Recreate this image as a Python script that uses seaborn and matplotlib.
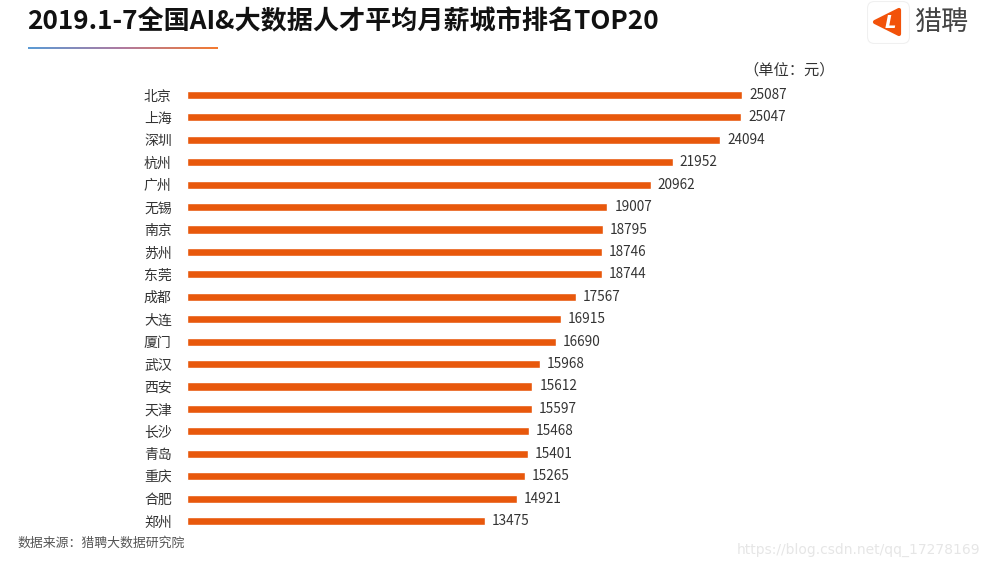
import numpy as np
import pandas as pd
import matplotlib
matplotlib.use('Agg')
import matplotlib.pyplot as plt
from matplotlib.colors import LinearSegmentedColormap
from matplotlib.patches import FancyBboxPatch, Polygon
import seaborn as sns

# Data
CITIES = ['北京', '上海', '深圳', '杭州', '广州', '无锡', '南京', '苏州', '东莞', '成都',
          '大连', '厦门', '武汉', '西安', '天津', '长沙', '青岛', '重庆', '合肥', '郑州']
SALARIES = [25087, 25047, 24094, 21952, 20962, 19007, 18795, 18746, 18744, 17567,
            16915, 16690, 15968, 15612, 15597, 15468, 15401, 15265, 14921, 13475]
TITLE = '2019.1-7全国AI&大数据人才平均月薪城市排名TOP20'
UNIT = '（单位：元）'
SOURCE = '数据来源：猎聘大数据研究院'
WATERMARK = 'https://blog.csdn.net/qq_17278169'

W, H = 990, 568
BAR_COLOR = '#E8580C'
FONTS = ['Noto Sans CJK SC', 'DejaVu Sans']


def px(x, y):
    """Pixel coords (from top-left) to figure fraction."""
    return x / W, 1 - y / H


def draw_header(fig):
    x, y = px(27, 22)
    fig.text(x, y, TITLE, fontsize=18.8, fontweight='bold', color='#111111',
             ha='left', va='center', family=FONTS)

    # gradient underline
    cmap = LinearSegmentedColormap.from_list('uline', ['#5B9BD5', '#B07AA0', '#F47B30'])
    lx, ly = px(28, 49)
    lax = fig.add_axes([lx, ly, 190 / W, 2.5 / H])
    lax.imshow(np.linspace(0, 1, 200)[None, :], aspect='auto', cmap=cmap)
    lax.axis('off')

    # logo
    gx, gy = px(867, 44)
    gax = fig.add_axes([gx, gy, 43 / W, 43 / H])
    gax.set_xlim(0, 43)
    gax.set_ylim(0, 43)
    gax.axis('off')
    gax.add_patch(FancyBboxPatch((0.5, 0.5), 42, 42, boxstyle='round,pad=0,rounding_size=7',
                                 facecolor='white', edgecolor='#F0F0F0', lw=0.8))
    gax.add_patch(Polygon([[8, 22], [32, 34], [32, 10]], closed=True, facecolor='#F2520A',
                          edgecolor='#F2520A', lw=3, joinstyle='round'))
    gax.text(23.5, 21.5, 'L', fontsize=13, fontweight='bold', fontstyle='italic',
             color='white', ha='center', va='center', family='DejaVu Sans')
    tx, ty = px(914, 22)
    fig.text(tx, ty, '猎聘', fontsize=19.5, color='#444444', ha='left', va='center', family=FONTS)


def main():
    sns.set_theme(style='white')
    plt.rcParams['font.family'] = FONTS

    df = pd.DataFrame({'city': CITIES, 'salary': SALARIES})

    fig = plt.figure(figsize=(W / 100, H / 100), dpi=100)
    fig.patch.set_facecolor('white')

    # axes: x from 187px, y rows centred 94..520px
    ax_left, ax_right = 187, 187 + 28000 * 555 / 25087
    ax_top, ax_bot = 95 - 11.2, 521 + 11.2
    ax = fig.add_axes([ax_left / W, 1 - ax_bot / H, (ax_right - ax_left) / W, (ax_bot - ax_top) / H])

    sns.barplot(data=df, x='salary', y='city', color=BAR_COLOR, width=0.36,
                saturation=1, ax=ax)
    ax.set_xlim(0, 28000)
    ax.set_ylim(19.5, -0.5)
    ax.bar_label(ax.containers[0], padding=5, fontsize=9.8, color='#333333')

    ax.set_xlabel('')
    ax.set_ylabel('')
    ax.set_xticks([])
    ax.tick_params(axis='y', length=0, pad=11, labelsize=10, labelcolor='#333333')
    sns.despine(ax=ax, left=True, bottom=True)
    ax.set_facecolor('none')

    draw_header(fig)

    x, y = px(743, 70)
    fig.text(x, y, UNIT, fontsize=11, color='#333333', ha='left', va='center')
    x, y = px(17, 543)
    fig.text(x, y, SOURCE, fontsize=9.3, color='#555555', ha='left', va='center')
    x, y = px(980, 550)
    fig.text(x, y, WATERMARK, fontsize=10, color='#E6E6E6', ha='right', va='center',
             family='DejaVu Sans')

    fig.savefig('out.png', dpi=100, facecolor='white')
    plt.close(fig)


if __name__ == '__main__':
    main()
